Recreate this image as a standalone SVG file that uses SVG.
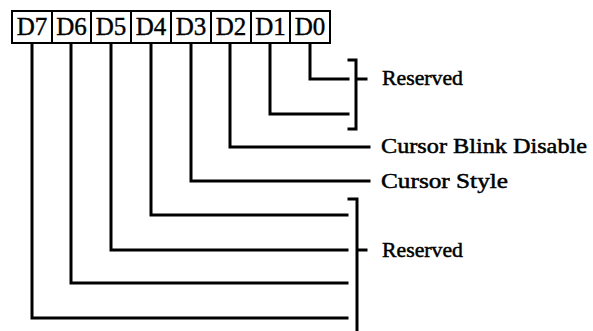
<svg xmlns="http://www.w3.org/2000/svg" width="593" height="331" viewBox="0 0 593 331">
<style>
.box{fill:#fff;stroke:#000;stroke-width:2}
.bl{font-family:"Liberation Serif","Times New Roman",serif;font-size:25px;text-anchor:middle;fill:#000;stroke:#000;stroke-width:0.4}
.lbl{font-family:"Liberation Serif","Times New Roman",serif;font-size:22px;fill:#000;stroke:#000;stroke-width:0.5}
.ln{fill:none;stroke:#000;stroke-width:3;stroke-linecap:square;stroke-linejoin:miter}
</style>
<rect x="0" y="0" width="593" height="331" fill="#fff"/>
<g id="register">
<g id="bit-D7"><rect class="box" x="12" y="11" width="40" height="32"/><text class="bl" x="32" y="35">D7</text></g>
<g id="bit-D6"><rect class="box" x="52" y="11" width="39" height="32"/><text class="bl" x="71.5" y="35">D6</text></g>
<g id="bit-D5"><rect class="box" x="91" y="11" width="40" height="32"/><text class="bl" x="111" y="35">D5</text></g>
<g id="bit-D4"><rect class="box" x="131" y="11" width="40" height="32"/><text class="bl" x="151" y="35">D4</text></g>
<g id="bit-D3"><rect class="box" x="171" y="11" width="40" height="32"/><text class="bl" x="191" y="35">D3</text></g>
<g id="bit-D2"><rect class="box" x="211" y="11" width="40" height="32"/><text class="bl" x="231" y="35">D2</text></g>
<g id="bit-D1"><rect class="box" x="251" y="11" width="39" height="32"/><text class="bl" x="270.5" y="35">D1</text></g>
<g id="bit-D0"><rect class="box" x="290" y="11" width="40" height="32"/><text class="bl" x="310" y="35">D0</text></g>
</g>
<g id="connectors">
<path class="ln" d="M310 44 V79 H348"/>
<path class="ln" d="M270 44 V114 H348"/>
<path class="ln" d="M230 44 V147 H369"/>
<path class="ln" d="M191 44 V181 H369"/>
<path class="ln" d="M151 44 V215 H347"/>
<path class="ln" d="M111 44 V250 H347"/>
<path class="ln" d="M71 44 V283 H347"/>
<path class="ln" d="M32 44 V318 H347"/>
<path class="ln" d="M349 60 H356 V129 H349 M356 79 H366"/>
<path class="ln" d="M349 199 H357 V333 M357 250 H366"/>
</g>
<g id="labels">
<g id="label-reserved-low"><text class="lbl" x="382" y="85" textLength="81" lengthAdjust="spacingAndGlyphs">Reserved</text></g>
<g id="label-blink"><text class="lbl" x="381" y="153" textLength="206" lengthAdjust="spacingAndGlyphs">Cursor Blink Disable</text></g>
<g id="label-style"><text class="lbl" x="381" y="188" textLength="127" lengthAdjust="spacingAndGlyphs">Cursor Style</text></g>
<g id="label-reserved-high"><text class="lbl" x="382" y="257" textLength="81" lengthAdjust="spacingAndGlyphs">Reserved</text></g>
</g>
</svg>
